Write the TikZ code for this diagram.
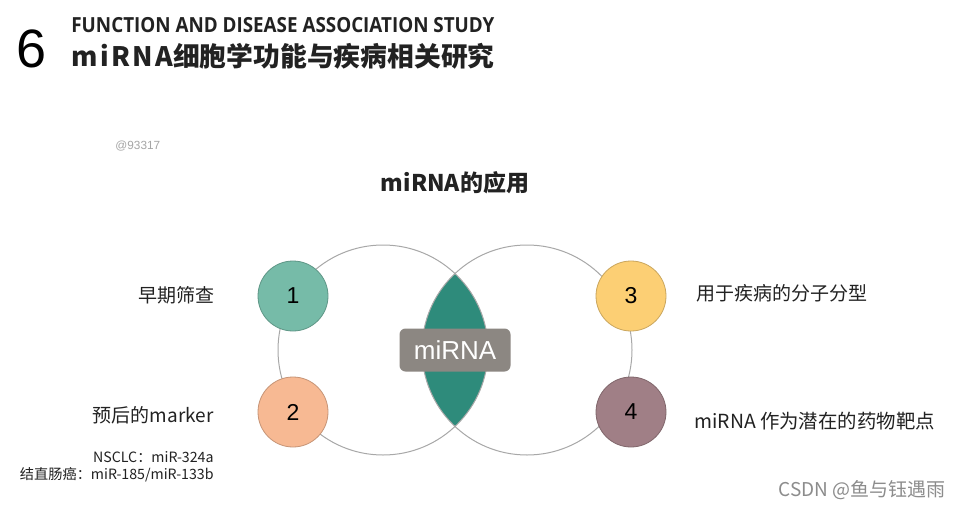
\documentclass[tikz,border=0pt]{standalone}
\usepackage{fontspec}
\setmainfont{Noto Sans CJK SC}
\newfontfamily\arialfont{Liberation Sans}
\newfontfamily\headfont[FakeStretch=0.905]{Open Sans}
\definecolor{tealA}{HTML}{76BBA8}
\definecolor{peachB}{HTML}{F7B993}
\definecolor{goldC}{HTML}{FCCF74}
\definecolor{mauveD}{HTML}{A07F86}
\definecolor{lensteal}{HTML}{2E8B7B}
\definecolor{boxgray}{HTML}{8C8782}
\definecolor{ringgray}{HTML}{A8A8A8}
\definecolor{inkgray}{HTML}{222222}
\begin{document}
\begin{tikzpicture}[x=0.5pt, y=-0.5pt, every node/.style={inner sep=0pt},
  num/.style={circle,draw=#1!80!black,line width=0.4pt,fill=#1,minimum size=35pt,font=\arialfont\fontsize{11.5}{12}\selectfont},
  lbl/.style={font=\fontsize{9.5}{11}\selectfont,text=inkgray},
  ring/.style={draw=ringgray,line width=0.5pt}]
\path[fill=white] (0,0) rectangle (962,508);
\useasboundingbox (0,0) rectangle (962,508);
% header
\node[anchor=west,font=\arialfont\fontsize{27}{27}\selectfont] (six) at (16,49) {6};
\node[anchor=west,font=\headfont\bfseries\fontsize{10.4}{12}\selectfont,text=inkgray] (head1) at (71,25) {FUNCTION AND DISEASE ASSOCIATION STUDY};
\node[anchor=west,font=\bfseries\fontsize{13.4}{15}\selectfont,text=inkgray] (head2) at (71,56) {{\addfontfeature{LetterSpace=9}miRNA}细胞学功能与疾病相关研究};
\node[anchor=west,font=\arialfont\fontsize{5.9}{7}\selectfont,text=gray!70] (tag) at (115,146) {@93317};
\node[font=\bfseries\fontsize{11.5}{13}\selectfont,text=inkgray] (title) at (455,183) {miRNA的应用};
% two rings and the overlap
\begin{scope}
  \clip (383,350) circle[radius=105];
  \fill[lensteal] (527,350) circle[radius=105];
\end{scope}
\draw[ring] (383,350) circle[radius=105];
\draw[ring] (527,350) circle[radius=105];
\node[fill=boxgray,rounded corners=3pt,minimum width=55.5pt,minimum height=21.5pt,text=white,font=\arialfont\fontsize{13}{14}\selectfont] (core) at (455,350) {miRNA};
% numbered points
\node[num=tealA] (n1) at (293,296) {1};
\node[num=peachB] (n2) at (293,412) {2};
\node[num=goldC] (n3) at (631,296) {3};
\node[num=mauveD] (n4) at (631,412) {4};
% labels
\node[lbl,anchor=east] (t1) at (215,295) {早期筛查};
\node[lbl,anchor=east] (t2) at (214,415) {预后的marker};
\node[lbl,anchor=east,font=\fontsize{7.1}{8}\selectfont] (t2a) at (214,457) {NSCLC：miR-324a};
\node[lbl,anchor=east,font=\fontsize{7.1}{8}\selectfont] (t2b) at (214,475) {结直肠癌：miR-185/miR-133b};
\node[lbl,anchor=west] (t3) at (696,293) {用于疾病的分子分型};
\node[lbl,anchor=west,font=\fontsize{9.7}{11}\selectfont] (t4) at (694,421) {miRNA 作为潜在的药物靶点};
\node[anchor=east,font=\fontsize{9.5}{11}\selectfont,text=gray!90] (mark) at (946,490) {CSDN @鱼与钰遇雨};
\end{tikzpicture}
\end{document}
